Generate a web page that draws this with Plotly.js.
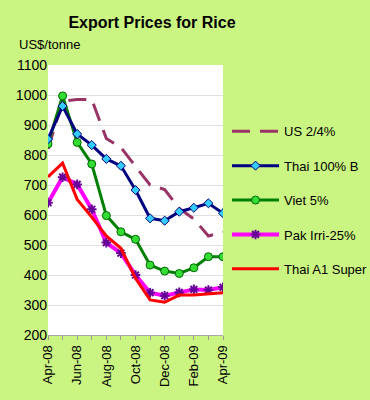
<!DOCTYPE html>
<html><head><meta charset="utf-8">
<script src="https://cdn.plot.ly/plotly-3.0.1.min.js"></script>
<style>html,body{margin:0;padding:0;background:#cbf582;}#chart{width:370px;height:400px;}</style>
</head><body><div id="chart"></div>
<script>
const months = ["Apr-08","May-08","Jun-08","Jul-08","Aug-08","Sep-08","Oct-08","Nov-08","Dec-08","Jan-09","Feb-09","Mar-09","Apr-09"];
const us24 = [820, 980, 985, 985, 855, 825, 762, 700, 685, 622, 587, 530, 543];
const thai100B = [853, 963, 870, 833, 787, 764, 683, 589, 581, 611, 624, 639, 606];
const viet5 = [837, 997, 842, 770, 598, 544, 519, 433, 413, 405, 424, 461, 461];
const pakIrri25 = [641, 726, 702, 619, 508, 473, 400, 341, 331, 342, 352, 350, 359];
const thaiA1Super = [727, 773, 652, 593, 530, 489, 389, 317, 309, 333, 333, 336, 341];
const tickLabels = ["Apr-08","Jun-08","Aug-08","Oct-08","Dec-08","Feb-09","Apr-09"];

const idx = months.map((m, i) => i);
const tickIdx = tickLabels.map(t => months.indexOf(t));

const traces = [
  {name: "US 2/4%", x: idx, y: us24, mode: "lines", legendrank: 1, legendgroup: "a",
   line: {color: "#993366", width: 3, dash: "18px,10px"}},
  {name: "Viet 5%", x: idx, y: viet5, mode: "lines+markers", legendrank: 3, legendgroup: "c",
   line: {color: "#008000", width: 3},
   marker: {symbol: "circle", size: 8, color: "#33dd33", line: {color: "#006600", width: 1}}},
  {name: "Thai 100% B", x: idx, y: thai100B, mode: "lines+markers", legendrank: 2, legendgroup: "b",
   line: {color: "#000080", width: 3},
   marker: {symbol: "diamond", size: 7, color: "#33ccff", line: {color: "#000080", width: 1}}},
  {name: "Pak Irri-25%", x: idx, y: pakIrri25, mode: "lines+markers", legendrank: 4, legendgroup: "d",
   line: {color: "#ff00ff", width: 4},
   marker: {symbol: "asterisk-open", size: 8, color: "#660099", line: {color: "#660099", width: 2}}},
  {name: "Thai A1 Super", x: idx, y: thaiA1Super, mode: "lines", legendrank: 5, legendgroup: "e",
   line: {color: "#ff0000", width: 3}}
];

const layout = {
  width: 370, height: 400,
  paper_bgcolor: "#cbf582", plot_bgcolor: "#ffffff",
  margin: {l: 48, r: 147, t: 65, b: 65, autoexpand: false},
  font: {family: "Liberation Sans, Arial, sans-serif", size: 14, color: "#000"},
  title: {text: "<b>Export Prices for Rice</b>", font: {size: 16, color: "#000"},
          x: 152/370, xref: "container", xanchor: "center", y: 1 - 22/400, yref: "container", yanchor: "middle"},
  xaxis: {type: "linear", range: [0, 12], tickmode: "array", tickvals: tickIdx, ticktext: tickLabels,
          tickangle: -90, ticks: "outside", ticklen: 4, tickcolor: "#999", showline: true, linecolor: "#aaa",
          showgrid: false, zeroline: false, tickfont: {size: 13},
          minor: {ticks: "outside", dtick: 1, ticklen: 4, tickcolor: "#999", showgrid: false}},
  yaxis: {range: [200, 1100], dtick: 100, showgrid: true, gridcolor: "#e0e0e0", zeroline: false,
          ticks: "", showline: false, tickfont: {size: 14}},
  showlegend: true,
  legend: {x: 1.023, xanchor: "left", y: 0.81, yanchor: "top", bgcolor: "rgba(0,0,0,0)",
           font: {size: 13}, itemwidth: 47, tracegroupgap: 14.5, traceorder: "grouped"},
  annotations: [{text: "US$/tonne", xref: "paper", yref: "paper", x: (17-48)/175, y: (335-45)/270,
                 xanchor: "left", yanchor: "middle", showarrow: false, font: {size: 13}}]
};

Plotly.newPlot("chart", traces, layout, {displayModeBar: false, staticPlot: true});
</script></body></html>
